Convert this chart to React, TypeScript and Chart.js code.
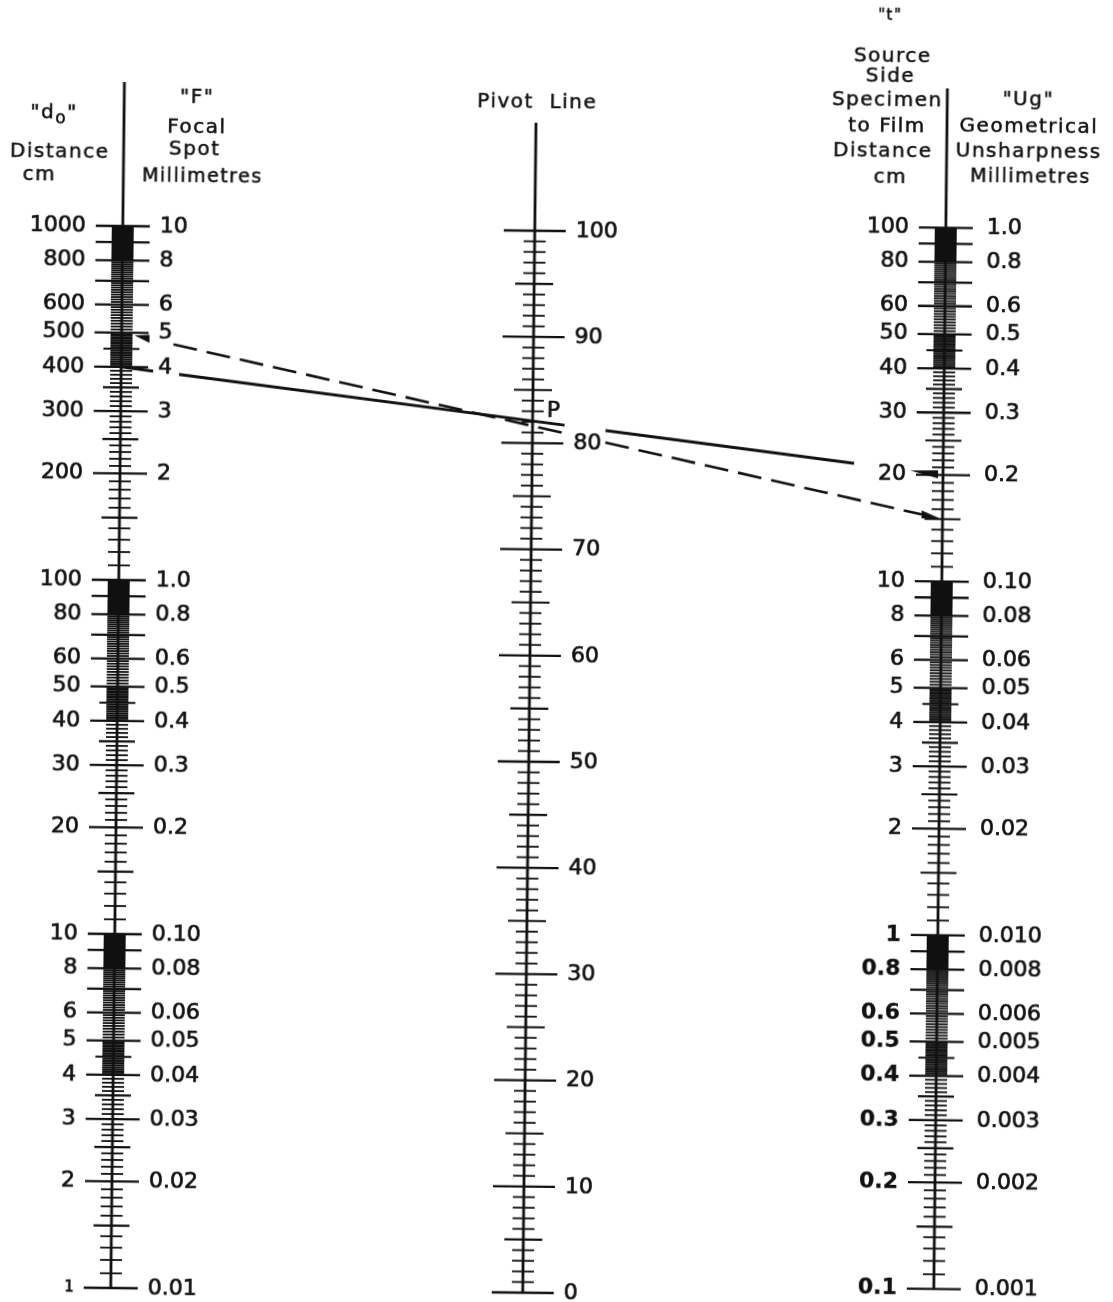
import { useEffect, useRef } from "react";
import { Chart, registerables } from "chart.js";

Chart.register(...registerables);

// ---------- data ----------
const distanceValues = [1000, 800, 600, 500, 400, 300, 200, 100, 80, 60, 50, 40, 30, 20, 10, 8, 6, 5, 4, 3, 2, 1];
const distanceLabels = ["1000", "800", "600", "500", "400", "300", "200", "100", "80", "60", "50", "40", "30", "20", "10", "8", "6", "5", "4", "3", "2", "1"];
const focalSpotLabels = ["10", "8", "6", "5", "4", "3", "2", "1.0", "0.8", "0.6", "0.5", "0.4", "0.3", "0.2", "0.10", "0.08", "0.06", "0.05", "0.04", "0.03", "0.02", "0.01"];
const pivotValues = [0, 10, 20, 30, 40, 50, 60, 70, 80, 90, 100];
const pivotLabels = ["0", "10", "20", "30", "40", "50", "60", "70", "80", "90", "100"];
const thicknessValues = [100, 80, 60, 50, 40, 30, 20, 10, 8, 6, 5, 4, 3, 2, 1, 0.8, 0.6, 0.5, 0.4, 0.3, 0.2, 0.1];
const thicknessLabels = ["100", "80", "60", "50", "40", "30", "20", "10", "8", "6", "5", "4", "3", "2", "1", "0.8", "0.6", "0.5", "0.4", "0.3", "0.2", "0.1"];
const unsharpnessLabels = ["1.0", "0.8", "0.6", "0.5", "0.4", "0.3", "0.2", "0.10", "0.08", "0.06", "0.05", "0.04", "0.03", "0.02", "0.010", "0.008", "0.006", "0.005", "0.004", "0.003", "0.002", "0.001"];

// scale graduations (per decade mantissas)
const longMantissas = [1, 2, 3, 4, 5, 6, 7, 8, 9];
const midMantissas = [1.5, 2.5, 3.5, 4.5];
const minorSteps = [
  { from: 1, to: 4, step: 0.1 },
  { from: 4, to: 5, step: 0.05 },
  { from: 5, to: 8, step: 0.1 },
  { from: 8, to: 10, step: 0.05 },
];
const distanceDecades = [1, 10, 100];
const thicknessDecades = [0.1, 1, 10];

// example solutions drawn on the nomogram
const solidExample = { distance: 400, thickness: 20 };
const dashedExample = { distance: 500, thickness: 15 };
const pivotMarkValue = 83;

// ---------- layout ----------
const W = 1113;
const H = 1302;
const L = {
  areaTop: 231,
  areaBottom: 1293,
  rotateDeg: 0.65,
  leftX: 118,
  midX: 530,
  rightX: 941,
  leftTop: 87,
  midTop: 123,
  rightTop: 84,
};

const FONT = '"DejaVu Sans", sans-serif';
const INK = "#111";

const headers: { text: string; x: number; y: number; size: number; sub?: string; after?: string }[] = [
  { text: '"d', sub: "o", after: '"', x: 48, y: 119, size: 20 },
  { text: "Distance", x: 54, y: 158, size: 20 },
  { text: "cm", x: 34, y: 181, size: 20 },
  { text: '"F"', x: 191, y: 102, size: 20 },
  { text: "Focal", x: 191, y: 132, size: 20 },
  { text: "Spot", x: 189, y: 154, size: 20 },
  { text: "Millimetres", x: 197, y: 181, size: 19 },
  { text: "Pivot  Line", x: 531, y: 103, size: 20 },
  { text: '"t"', x: 883, y: 12, size: 15 },
  { text: "Source", x: 886, y: 53, size: 20 },
  { text: "Side", x: 884, y: 73, size: 20 },
  { text: "Specimen", x: 881, y: 97, size: 20 },
  { text: "to Film", x: 881, y: 123, size: 20 },
  { text: "Distance", x: 877, y: 148, size: 20 },
  { text: "cm", x: 885, y: 174, size: 20 },
  { text: '"Ug"', x: 1022, y: 95, size: 20 },
  { text: "Geometrical", x: 1023, y: 122, size: 20 },
  { text: "Unsharpness", x: 1023, y: 147, size: 20 },
  { text: "Millimetres", x: 1025, y: 172, size: 19 },
];

type Tick = { v: number; kind: "long" | "mid" | "minor" };

function logGraduations(decades: number[], top: number): Tick[] {
  const out: Tick[] = [];
  const special = new Set([...longMantissas, ...midMantissas].map((m) => Math.round(m * 100)));
  for (const d of decades) {
    for (const m of longMantissas) out.push({ v: m * d, kind: "long" });
    for (const m of midMantissas) out.push({ v: m * d, kind: "mid" });
    for (const s of minorSteps) {
      const n = Math.round((s.to - s.from) / s.step);
      for (let i = 1; i < n; i++) {
        const m = Math.round((s.from + i * s.step) * 100);
        if (special.has(m)) continue;
        out.push({ v: (m / 100) * d, kind: "minor" });
      }
    }
  }
  out.push({ v: top, kind: "long" });
  return out;
}

function pivotGraduations(): Tick[] {
  const out: Tick[] = [];
  for (let v = 0; v <= 100; v++) {
    out.push({ v, kind: v % 10 === 0 ? "long" : v % 5 === 0 ? "mid" : "minor" });
  }
  return out;
}

function heavyText(ctx: CanvasRenderingContext2D, text: string, x: number, y: number, weight = 0.7) {
  ctx.fillText(text, x, y);
  ctx.save();
  ctx.lineWidth = weight;
  ctx.strokeText(text, x, y);
  ctx.restore();
}

const nomogramPlugin = {
  id: "nomogram",
  beforeDraw(chart: any) {
    const ctx = chart.ctx as CanvasRenderingContext2D;
    ctx.save();
    ctx.fillStyle = "#fff";
    ctx.fillRect(0, 0, chart.width, chart.height);
    ctx.restore();
  },
  afterDraw(chart: any) {
    const ctx = chart.ctx as CanvasRenderingContext2D;
    const yL = chart.scales.yL;
    const yM = chart.scales.yM;
    const yR = chart.scales.yR;
    const x = chart.scales.x;
    const lx = x.getPixelForValue(L.leftX);
    const mx = x.getPixelForValue(L.midX);
    const rx = x.getPixelForValue(L.rightX);

    ctx.save();
    ctx.strokeStyle = INK;
    ctx.fillStyle = INK;

    // axis lines
    ctx.lineWidth = 2.8;
    ctx.beginPath();
    ctx.moveTo(lx, L.leftTop);
    ctx.lineTo(lx, yL.getPixelForValue(1));
    ctx.moveTo(mx, L.midTop);
    ctx.lineTo(mx, yM.getPixelForValue(0));
    ctx.moveTo(rx, L.rightTop);
    ctx.lineTo(rx, yR.getPixelForValue(0.1));
    ctx.stroke();

    const drawTicks = (ticks: Tick[], scale: any, ax: number, lens: { long: number; mid: number; minor: number }) => {
      for (const t of ticks) {
        const py = scale.getPixelForValue(t.v);
        const h = lens[t.kind];
        ctx.lineWidth = t.kind === "long" ? 2.3 : t.kind === "mid" ? 2.1 : 1.8;
        ctx.beginPath();
        ctx.moveTo(ax - h, py);
        ctx.lineTo(ax + h, py);
        ctx.stroke();
      }
    };
    const logLens = { long: 27, mid: 18, minor: 11 };
    drawTicks(logGraduations(distanceDecades, 1000), yL, lx, logLens);
    drawTicks(logGraduations(thicknessDecades, 100), yR, rx, logLens);
    drawTicks(pivotGraduations(), yM, mx, { long: 31, mid: 19, minor: 11 });

    // labels
    ctx.textBaseline = "middle";
    const labelFont = `22px ${FONT}`;
    ctx.font = labelFont;
    ctx.textAlign = "right";
    distanceValues.forEach((v, i) => {
      ctx.font = v === 1 ? `15px ${FONT}` : labelFont;
      heavyText(ctx, distanceLabels[i], lx - 37, yL.getPixelForValue(v));
    });
    ctx.font = labelFont;
    ctx.textAlign = "left";
    distanceValues.forEach((v, i) => heavyText(ctx, focalSpotLabels[i], lx + 37, yL.getPixelForValue(v)));
    pivotValues.forEach((v, i) => heavyText(ctx, pivotLabels[i], mx + 41, yM.getPixelForValue(v)));
    heavyText(ctx, "P", mx + 14, yM.getPixelForValue(pivotMarkValue));
    ctx.textAlign = "right";
    thicknessValues.forEach((v, i) => {
      ctx.font = v <= 1 ? `bold 22px ${FONT}` : labelFont;
      heavyText(ctx, thicknessLabels[i], rx - 37, yR.getPixelForValue(v), v <= 1 ? 0.3 : 0.7);
    });
    ctx.font = labelFont;
    ctx.textAlign = "left";
    thicknessValues.forEach((v, i) => heavyText(ctx, unsharpnessLabels[i], rx + 41, yR.getPixelForValue(v)));

    // headers
    (ctx as any).letterSpacing = "1.5px";
    ctx.textAlign = "left";
    for (const h of headers) {
      ctx.font = `${h.size}px ${FONT}`;
      const w1 = ctx.measureText(h.text).width;
      let w2 = 0;
      let w3 = 0;
      if (h.sub) {
        ctx.font = `${h.size - 3}px ${FONT}`;
        w2 = ctx.measureText(h.sub).width;
        ctx.font = `${h.size}px ${FONT}`;
        w3 = ctx.measureText(h.after || "").width;
      }
      const total = w1 + w2 + w3;
      const x0 = h.x - total / 2;
      ctx.font = `${h.size}px ${FONT}`;
      heavyText(ctx, h.text, x0, h.y, 0.5);
      if (h.sub) {
        ctx.font = `${h.size - 3}px ${FONT}`;
        heavyText(ctx, h.sub, x0 + w1, h.y + 6, 0.5);
        ctx.font = `${h.size}px ${FONT}`;
        heavyText(ctx, h.after || "", x0 + w1 + w2, h.y, 0.5);
      }
    }
    (ctx as any).letterSpacing = "0px";

    // example lines
    const guide = (ex: { distance: number; thickness: number }) => {
      const p1 = { x: lx, y: yL.getPixelForValue(ex.distance) };
      const p2 = { x: rx, y: yR.getPixelForValue(ex.thickness) };
      return (px: number) => p1.y + ((p2.y - p1.y) * (px - p1.x)) / (p2.x - p1.x);
    };
    const drawSegs = (yAt: (px: number) => number, segs: number[][], dashed: boolean) => {
      ctx.save();
      ctx.lineWidth = dashed ? 2.6 : 3;
      ctx.setLineDash(dashed ? [24, 10] : []);
      for (const [a, b] of segs) {
        ctx.beginPath();
        ctx.moveTo(a, yAt(a));
        ctx.lineTo(b, yAt(b));
        ctx.stroke();
      }
      ctx.restore();
    };
    const wedge = (yAt: (px: number) => number, tip: number, base: number, hw: number) => {
      ctx.beginPath();
      ctx.moveTo(tip, yAt(tip));
      ctx.lineTo(base, yAt(base) - hw);
      ctx.lineTo(base, yAt(base) + hw);
      ctx.closePath();
      ctx.fill();
    };
    const solid = guide(solidExample);
    drawSegs(solid, [[lx, 150], [176, 562], [603, 852]], false);
    wedge(solid, 908, 936, 4);
    const dashed = guide(dashedExample);
    drawSegs(dashed, [[170, 562], [603, 920]], true);
    wedge(dashed, 938, 920, 4);
    wedge(dashed, 131, 146, 4);

    ctx.restore();
  },
};

export default function App() {
  const ref = useRef<HTMLCanvasElement | null>(null);
  useEffect(() => {
    document.body.style.margin = "0";
    const canvas = ref.current;
    if (!canvas) return;
    const chart = new Chart(canvas, {
      type: "scatter",
      data: { datasets: [] },
      options: {
        animation: false,
        responsive: false,
        devicePixelRatio: 1,
        layout: { padding: { top: L.areaTop, bottom: H - L.areaBottom, left: 0, right: 0 } },
        plugins: { legend: { display: false }, tooltip: { enabled: false }, title: { display: false } },
        scales: {
          x: { type: "linear", min: 0, max: W, display: false },
          yL: { type: "logarithmic", position: "left", min: 1, max: 1000, display: false },
          yM: { type: "linear", position: "left", min: 0, max: 100, display: false },
          yR: { type: "logarithmic", position: "right", min: 0.0947, max: 95.1, display: false },
        },
      } as any,
      plugins: [nomogramPlugin],
    });
    return () => chart.destroy();
  }, []);
  return (
    <div style={{ width: W, height: H, overflow: "hidden", background: "#fff" }}>
      <canvas
        ref={ref}
        width={W}
        height={H}
        style={{ display: "block", transform: `rotate(${L.rotateDeg}deg)`, transformOrigin: "556px 651px" }}
      />
    </div>
  );
}
